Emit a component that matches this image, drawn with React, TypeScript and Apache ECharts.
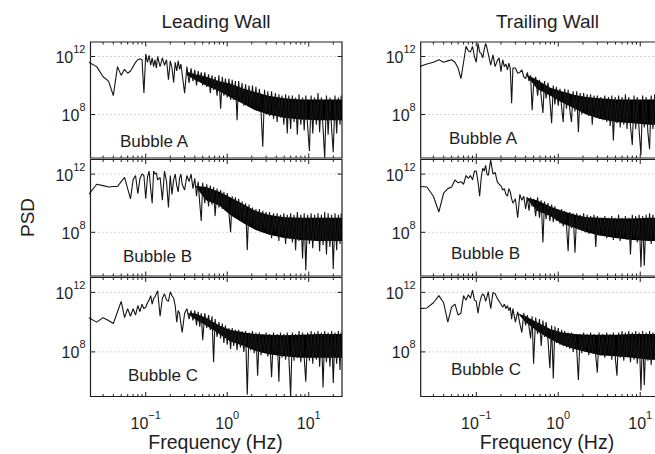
import React, { useEffect, useRef } from "react";
import * as echarts from "echarts";

// ---------------- data ----------------
const freqHz = [
  0.02, 0.025, 0.03, 0.035, 0.04, 0.045, 0.05, 0.055, 0.06, 0.065,
  0.07, 0.075, 0.08, 0.085, 0.09, 0.095, 0.1, 0.105, 0.11, 0.115,
  0.12, 0.125, 0.13, 0.135, 0.14, 0.15, 0.16, 0.17, 0.18, 0.19,
  0.2, 0.21, 0.22, 0.23, 0.24, 0.25, 0.26, 0.27, 0.28, 0.3,
  0.32, 0.34, 0.36, 0.38, 0.4, 0.42, 0.44, 0.46, 0.48, 0.5,
  0.53, 0.56, 0.59, 0.62, 0.65, 0.68, 0.71, 0.75, 0.79, 0.83,
  0.87, 0.91, 0.95, 1.0, 1.05, 1.1, 1.15, 1.2, 1.26, 1.32,
  1.38, 1.45, 1.52, 1.6, 1.68, 1.76, 1.85, 1.94, 2.04, 2.14,
  2.25, 2.36, 2.48, 2.6, 2.73, 2.87, 3.0, 3.15, 3.3, 3.5,
  3.7, 3.9, 4.1, 4.3, 4.5, 4.7, 4.95, 5.2, 5.45, 5.7,
  6.0, 6.3, 6.6, 6.9, 7.25, 7.6, 8.0, 8.4, 8.8, 9.2,
  9.7, 10.2, 10.7, 11.2, 11.8, 12.4, 13.0, 13.6, 14.3, 15.0,
  15.7, 16.5, 17.3, 18.2, 19.1, 20.0, 21.0, 22.0, 23.1, 24.2,
  25.0,
];

const leadingA = [
  4e11, 2e11, 4e10, 2e10, 2e9, 2e11, 5e10, 1.3e11, 7e10, 1e11,
  2e11, 4e11, 6e11, 7e11, 6e11, 3e9, 1.5e12, 4e11, 1.2e12, 2.5e11,
  8e11, 2e11, 6e11, 1.6e11, 1e12, 2e11, 8e11, 2.5e11, 6e11, 2.5e10,
  5e11, 1.6e11, 1.6e10, 4e11, 1e11, 5e11, 1.3e11, 3e11, 6e10, 3e9,
  2e11, 1.5e10, 1.5e11, 2e10, 1.2e11, 1e10, 1e11, 2e10, 8e10, 1e10,
  8e10, 8e9, 6e10, 3e9, 5e10, 5e9, 4e10, 2e9, 5e10, 2.5e8,
  4e10, 2e9, 3e10, 1.5e9, 3e10, 1e9, 2.5e10, 1e9, 2e10, 4e7,
  2e10, 8e8, 1.5e10, 4e8, 1.2e10, 6e8, 1e10, 3e8, 1e10, 3e8,
  8e9, 2e8, 6e9, 1.5e8, 6e5, 5e9, 1e8, 4e9, 8e7, 4e9,
  5e7, 3e9, 3e7, 2.5e9, 6e7, 2e9, 2e7, 2.5e9, 5e6, 2e9,
  1e7, 2e9, 3e7, 1.5e9, 4e6, 2.5e9, 2e7, 1.5e9, 8e6, 2e9,
  1.5e7, 3e5, 2e9, 5e6, 1.5e9, 2e7, 3e9, 6e6, 1.5e9, 1e7,
  1e5, 2e9, 4e6, 1.5e9, 1e7, 2.5e5, 2e9, 5e6, 1.5e9, 2e7,
  2e9,
];

const leadingB = [
  4e10, 2e11, 1.6e11, 1.3e11, 1.4e11, 1.4e11, 3e11, 6e11, 1e11, 2e10,
  4e11, 8e11, 4.5e10, 5e11, 1e12, 8e11, 2e10, 6e11, 1.6e12, 1e11,
  1e10, 1.6e12, 1e12, 1.2e12, 4e11, 6e11, 1.6e10, 1.6e12, 3e11, 5e9,
  8e11, 4e10, 4e11, 1e12, 1.6e11, 6e10, 5e11, 1e12, 2e11, 8e10,
  8e11, 3e11, 1e12, 1e11, 5e11, 3e10, 3e11, 1e10, 6e8, 2.5e11,
  1e10, 2e11, 6e9, 1.6e11, 8e9, 1.3e11, 1.3e9, 1e11, 5e9, 8e10,
  4e9, 6e10, 3e9, 5e10, 2e9, 1e8, 3e10, 1.3e9, 2.5e10, 1e9,
  2e10, 6e8, 1.3e10, 5e8, 1e10, 6e6, 8e9, 4e8, 5e9, 2.5e8,
  4e9, 2e8, 4e9, 1e8, 3e9, 1.6e8, 2.5e9, 8e7, 2.5e9, 4e7,
  2e9, 1e8, 2e9, 2.5e7, 1.6e9, 6e7, 2e9, 1.6e7, 1.6e9, 4e7,
  2e9, 2e7, 1.6e9, 6e6, 2.5e9, 2.5e7, 1.6e9, 1.6e6, 2e9, 2.5e5,
  1.6e9, 1.6e7, 2e9, 8e6, 1.6e9, 2.5e7, 2e9, 5e6, 1.6e9, 1.3e7,
  2.5e9, 3e6, 2e9, 1e7, 1.6e9, 3e5, 2e9, 6e6, 1.6e9, 1.6e7,
  2e9,
];

const leadingC = [
  2e10, 1e10, 2e10, 1.3e10, 8e9, 5e10, 2.5e11, 2e10, 8e10, 2.5e10,
  8e10, 3e10, 1.3e11, 5e10, 1.6e11, 8e10, 1e11, 2e11, 3e11, 6e11,
  1.6e11, 4e11, 5e11, 8e11, 1.3e12, 2.5e10, 4e11, 8e11, 3e11, 2.5e11,
  1.1e12, 6e11, 4e11, 1.3e11, 1e10, 6e10, 4e10, 8e9, 2e9, 4e10,
  8e10, 1.6e10, 6e10, 1.3e10, 6e10, 6e9, 5e10, 5e9, 4e10, 6e8,
  4e10, 4e9, 3e10, 3e9, 2.5e10, 2e7, 1.6e10, 1e9, 1e10, 8e8,
  8e9, 4e8, 6e9, 3e8, 4e9, 1.6e8, 4e9, 2.5e8, 3e9, 1.3e8,
  3e9, 2e8, 2.5e9, 1e8, 2.5e9, 1.3e5, 2e9, 1.3e8, 2.5e9, 8e7,
  2e9, 2.5e6, 2e9, 6e7, 1.6e9, 1e8, 2e9, 5e7, 1.6e9, 2e6,
  2e9, 6e7, 1.6e9, 1e6, 2e9, 4e7, 1.6e9, 3e7, 2e9, 5e7,
  1e5, 2e9, 2.5e7, 1.6e9, 4e7, 2.5e9, 2e7, 2e9, 4e7, 1e6,
  2e9, 2.5e7, 2.5e9, 1.6e7, 2e9, 3e7, 2.5e9, 1e7, 2e9, 4e5,
  2.5e9, 2e7, 2e9, 1e7, 2.5e9, 8e5, 2e9, 1.6e7, 2.5e9, 6e6,
  2e9,
];

const trailingA = [
  2e11, 3e11, 4e11, 6e11, 4e11, 5e11, 6e11, 4e11, 1.6e11, 3e10,
  4e11, 5e12, 2.5e12, 2e12, 5e12, 1e12, 4e11, 8e12, 2e12, 1.6e12,
  8e11, 3e12, 8e12, 4e12, 1.5e12, 2.5e11, 1.3e12, 2e11, 5e11, 8e11,
  9e10, 6e11, 2e11, 3e11, 1.2e11, 3.5e11, 1.5e11, 6e8, 1.6e11, 1.6e11,
  7e10, 8e10, 1.2e11, 4e10, 3e10, 8e10, 2e10, 5e10, 2e8, 1e10,
  4e10, 2e9, 2.5e10, 1.6e9, 1.3e8, 2e10, 1.3e9, 1.6e10, 1e9, 2.5e7,
  1e10, 5e8, 8e9, 4e8, 6e9, 3e8, 3e7, 6e9, 2.5e8, 5e9,
  2.5e8, 3e7, 4e9, 1.6e8, 4e9, 6e6, 3e9, 1e8, 3e9, 1.3e8,
  2.5e9, 8e7, 2.5e9, 2e7, 2e9, 6e7, 2e9, 5e7, 1.6e9, 4e7,
  2e9, 3e7, 1.6e9, 1.6e7, 2e9, 1.6e6, 1.6e9, 2.5e7, 2e9, 1.3e7,
  1.6e9, 2e7, 2.5e9, 1e7, 1.6e9, 1.6e7, 8e5, 2e9, 1e7, 1.6e9,
  8e6, 1.6e5, 2e9, 1.3e7, 1.6e9, 6e6, 4e5, 2e9, 1e7, 2.5e9,
  8e6, 1.6e9, 1.6e7, 2e9, 6e6, 1.6e9, 1e7, 2.5e9, 8e6, 2e9,
  1.3e7,
];

const trailingB = [
  1.4e11, 1.3e11, 3e10, 2.5e9, 5e10, 1e11, 1.3e11, 4e11, 2.5e11, 3e11,
  2e11, 8e11, 5e11, 8e11, 4e11, 1.6e12, 1.6e12, 3e11, 3e10, 6e11,
  2.5e12, 1.6e12, 4e12, 1e12, 8e11, 9e12, 1e12, 1.3e12, 3e11, 2e11,
  1.6e11, 8e10, 1e11, 4e10, 3e10, 1e11, 6e10, 2e10, 1e10, 2e10,
  1e9, 4e10, 1.6e10, 3e10, 4e9, 2.5e10, 3e9, 2.5e10, 6e9, 2e10,
  1.3e9, 2.5e10, 1e9, 1.6e10, 2e7, 1.3e10, 8e8, 1e10, 6e8, 8e9,
  5e8, 6e9, 6e8, 4e9, 4e8, 4e9, 2.5e8, 3e9, 3e8, 5e6,
  2.5e9, 2e8, 2e9, 4e6, 2e9, 1.6e8, 1.6e9, 1.3e8, 2e9, 1e8,
  1.6e9, 8e7, 1.3e9, 1e8, 1.6e9, 1e7, 1.3e9, 6e7, 1e9, 8e7,
  1.3e9, 4e7, 1e9, 6e7, 1.3e9, 3e7, 1e9, 5e7, 1.6e9, 2.5e7,
  1e9, 5e7, 1.3e9, 3e7, 1e9, 3e6, 1.6e9, 4e7, 1.3e9, 2e7,
  1.6e9, 4e5, 1.3e9, 5e5, 1.6e9, 2.5e7, 2e9, 1.6e7, 1.6e9, 3e7,
  2e9, 2e7, 1.6e9, 1.3e7, 2e9, 2.5e7, 1.6e9, 1e7, 2e9, 2e7,
  1.6e9,
];

const trailingC = [
  8e10, 9e10, 2e11, 6e11, 2e11, 1e10, 1e11, 1.6e11, 3e10, 4e10,
  6e11, 3e11, 7e11, 4e11, 1.4e12, 3e11, 2.5e11, 4e10, 2e11, 5e11,
  8e11, 6e11, 2.5e11, 5e11, 1.1e12, 8e10, 1e12, 8e11, 4e11, 2.5e11,
  1.6e11, 1e11, 1.6e11, 8e10, 1.3e11, 6e10, 1e11, 1.6e10, 8e10, 1e10,
  5e10, 8e9, 2e9, 4e10, 6e9, 3e10, 5e9, 8e8, 2.5e10, 1.6e7,
  2e10, 1.6e9, 1.6e10, 2.5e8, 1.3e10, 1e9, 1e10, 6e8, 8e6, 6e9,
  1.6e6, 5e9, 4e8, 4e9, 3e8, 3e9, 2.5e8, 2.5e9, 2e8, 2e9,
  1.6e8, 2e9, 1e8, 1.6e9, 1.3e8, 1.3e6, 1.6e9, 8e7, 2e9, 1e8,
  1.6e9, 6e7, 2e9, 8e7, 1.6e9, 5e7, 4e6, 2e9, 6e7, 1.6e9,
  4e7, 2e9, 8e7, 1.6e9, 3e7, 2e9, 5e7, 2.5e6, 2e9, 4e7,
  2.5e9, 2.5e7, 2e9, 5e7, 2.5e9, 2e7, 2e9, 3e7, 2.5e9, 1.6e7,
  2e9, 2.5e5, 2.5e9, 6e5, 2e9, 2.5e7, 2.5e9, 1.3e7, 2e9, 3e7,
  2.5e9, 1.6e7, 2e9, 2.5e7, 2.5e9, 1e7, 2e9, 2e7, 2.5e9, 1.3e7,
  2e9,
];

// solid core of the densely-sampled high-frequency part (upper / lower edge)
const bandFreqHz = [0.32, 0.4, 0.55, 0.8, 1.1, 1.6, 2.2, 3.2, 5, 8, 13, 25.6];
const leadingABandTop = [9e10, 6e10, 4e10, 2e10, 1.3e10, 6e9, 3.5e9, 2e9, 1.3e9, 1.1e9, 1.1e9, 1.1e9];
const leadingABandBottom = [5e10, 2.5e10, 1e10, 4e9, 1.5e9, 5e8, 2e8, 1e8, 6e7, 4.5e7, 4e7, 4e7];
const leadingBBandTop = [1.6e11, 1.6e11, 1.3e11, 6e10, 2.5e10, 8e9, 3e9, 1.6e9, 1.1e9, 1e9, 1e9, 1e9];
const leadingBBandBottom = [1.6e11, 1.6e11, 1.6e10, 7e9, 1.5e9, 4e8, 1.5e8, 7e7, 4e7, 3e7, 2.5e7, 2.5e7];
const leadingCBandTop = [4e10, 4e10, 2e10, 6e9, 3e9, 2e9, 1.6e9, 1.4e9, 1.3e9, 1.4e9, 1.6e9, 1.6e9];
const leadingCBandBottom = [4e10, 1.6e10, 6e9, 1.6e9, 5e8, 2.5e8, 1.2e8, 7e7, 5e7, 4e7, 4e7, 4e7];
const trailingABandTop = [6e10, 6e10, 2.5e10, 7e9, 4e9, 2.2e9, 1.6e9, 1.3e9, 1.1e9, 1.1e9, 1.1e9, 1.1e9];
const trailingABandBottom = [6e10, 6e10, 6e9, 2e9, 7e8, 2.5e8, 1e8, 5e7, 3e7, 2.5e7, 2e7, 2e7];
const trailingBBandTop = [2.5e10, 2.5e10, 1.6e10, 6e9, 3e9, 1.6e9, 1.1e9, 1e9, 9e8, 9e8, 1e9, 1e9];
const trailingBBandBottom = [2.5e10, 2.5e10, 3e9, 1.3e9, 4e8, 2e8, 1e8, 6e7, 4e7, 3e7, 2.5e7, 2.5e7];
const trailingCBandTop = [4e10, 2.5e10, 1e10, 3.5e9, 2e9, 1.6e9, 1.4e9, 1.4e9, 1.4e9, 1.6e9, 1.6e9, 1.6e9];
const trailingCBandBottom = [4e10, 1e10, 2.5e9, 7e8, 3e8, 1.5e8, 1e8, 6e7, 5e7, 4e7, 3e7, 3e7];

const columnTitles = ["Leading Wall", "Trailing Wall"];
const bubbleNames = ["Bubble A", "Bubble B", "Bubble C"];
const xMajorTicks = [0.1, 1, 10];
const xMinorTicks = [
  0.03, 0.04, 0.05, 0.06, 0.07, 0.08, 0.09,
  0.2, 0.3, 0.4, 0.5, 0.6, 0.7, 0.8, 0.9,
  2, 3, 4, 5, 6, 7, 8, 9, 20,
];
const yLabelledTicks = [1e8, 1e12];

// ---------------- layout / style ----------------
const FONT = "'Liberation Sans', Arial, Helvetica, sans-serif";
const TEXT = "#1e1e1e";
const colLeft = [90.5, 420.7];
const colWidth = [251.5, 253];
const rowTop = [42, 159.5, 277.5];
const rowHeight = [116, 116.5, 119];
const bubblePos = [
  [[120, 141.5], [123, 256], [128, 375]],
  [[449, 138], [451, 253.7], [451, 369.5]],
];

const panelData = [
  [leadingA, leadingB, leadingC],
  [trailingA, trailingB, trailingC],
];
const panelBandTop = [
  [leadingABandTop, leadingBBandTop, leadingCBandTop],
  [trailingABandTop, trailingBBandTop, trailingCBandTop],
];
const panelBandBottom = [
  [leadingABandBottom, leadingBBandBottom, leadingCBandBottom],
  [trailingABandBottom, trailingBBandBottom, trailingCBandBottom],
];

const rich = {
  b: { fontSize: 16, fontFamily: FONT, color: TEXT, lineHeight: 22, verticalAlign: "bottom" },
  s: { fontSize: 11, fontFamily: FONT, color: TEXT, lineHeight: 11, verticalAlign: "top" },
};

function powLabel(v: number): string {
  const e = Math.log10(v);
  const r = Math.round(e);
  if (Math.abs(e - r) > 1e-6) return "";
  const exp = r < 0 ? "\u2212" + Math.abs(r) : String(r);
  return `{b|10}{s|${exp}}`;
}

function yLabel(v: number): string {
  const ok = yLabelledTicks.some((t) => Math.abs(Math.log10(v) - Math.log10(t)) < 1e-6);
  return ok ? powLabel(v) : "";
}

function xLabel(v: number): string {
  const ok = xMajorTicks.some((t) => Math.abs(Math.log10(v) - Math.log10(t)) < 1e-6);
  return ok ? powLabel(v) : "";
}

function buildOption() {
  const grid: any[] = [];
  const xAxis: any[] = [];
  const yAxis: any[] = [];
  const series: any[] = [];
  const graphic: any[] = [];

  const tickData: number[][] = [
    ...xMajorTicks.map((v) => [v, 1]),
    ...xMinorTicks.map((v) => [v, 2]),
    ...yLabelledTicks.map((v) => [v, 3]),
  ];

  let idx = 0;
  for (let c = 0; c < 2; c++) {
    for (let r = 0; r < 3; r++) {
      grid.push({
        left: colLeft[c],
        top: rowTop[r],
        width: colWidth[c],
        height: rowHeight[r],
        show: true,
        borderColor: "#1e1e1e",
        borderWidth: 1.2,
        backgroundColor: "transparent",
        containLabel: false,
        outerBoundsMode: "none",
      });
      xAxis.push({
        gridIndex: idx,
        type: "log",
        logBase: 10,
        min: 0.021,
        max: 25.6,
        axisLine: { show: false },
        axisTick: { show: false },
        minorTick: { show: false },
        splitLine: { show: false },
        axisLabel: {
          show: r === 2,
          margin: 13,
          formatter: xLabel,
          rich,
          hideOverlap: false,
        },
      });
      yAxis.push({
        gridIndex: idx,
        type: "log",
        logBase: 10,
        min: 1e5,
        max: 1e13,
        axisLine: { show: false },
        axisTick: { show: false },
        minorTick: { show: false },
        splitLine: { show: false },
        axisLabel: {
          show: true,
          margin: 5,
          formatter: yLabel,
          rich,
          padding: [0, 0, 4, 0],
        },
      });
      const vals = panelData[c][r];
      const bandTop = panelBandTop[c][r];
      const bandBottom = panelBandBottom[c][r];

      // ticks and dotted grid lines
      series.push({
        type: "custom",
        xAxisIndex: idx,
        yAxisIndex: idx,
        z: 1,
        silent: true,
        data: tickData,
        renderItem: (params: any, api: any) => {
          const v = api.value(0);
          const k = api.value(1);
          const cs = params.coordSys;
          const top = cs.y;
          const bottom = cs.y + cs.height;
          const left = cs.x;
          const right = cs.x + cs.width;
          const tickStyle = { stroke: "#1e1e1e", lineWidth: 1 };
          if (k === 1 || k === 2) {
            const px = api.coord([v, 1e9])[0];
            const len = k === 1 ? 4.5 : 2.5;
            return {
              type: "group",
              children: [
                { type: "line", shape: { x1: px, y1: bottom, x2: px, y2: bottom - len }, style: tickStyle },
                { type: "line", shape: { x1: px, y1: top, x2: px, y2: top + len }, style: tickStyle },
              ],
            };
          }
          const py = api.coord([1, v])[1];
          return {
            type: "group",
            children: [
              {
                type: "line",
                shape: { x1: left, y1: py, x2: right, y2: py },
                style: { stroke: "#a8a8a8", lineWidth: 1, lineDash: [1, 3] },
              },
              { type: "line", shape: { x1: left, y1: py, x2: left + 4.5, y2: py }, style: tickStyle },
              { type: "line", shape: { x1: right, y1: py, x2: right - 4.5, y2: py }, style: tickStyle },
            ],
          };
        },
      });

      // solid core of the dense band
      series.push({
        type: "custom",
        xAxisIndex: idx,
        yAxisIndex: idx,
        z: 2,
        silent: true,
        clip: true,
        data: bandFreqHz.map((f, j) => [f, bandTop[j], bandBottom[j]]),
        encode: { x: 0, y: [1, 2] },
        renderItem: (params: any, api: any) => {
          if (params.dataIndex !== 0) return null;
          const upper = bandFreqHz.map((f, j) => api.coord([f, bandTop[j]]));
          const lower = bandFreqHz.map((f, j) => api.coord([f, bandBottom[j]])).reverse();
          return {
            type: "polygon",
            shape: { points: upper.concat(lower) },
            style: { fill: "#000000", stroke: "none" },
          };
        },
      });

      // the spectrum
      series.push({
        type: "line",
        xAxisIndex: idx,
        yAxisIndex: idx,
        z: 3,
        silent: true,
        symbol: "none",
        showSymbol: false,
        clip: true,
        lineStyle: { color: "#151515", width: 1.1 },
        data: freqHz.map((f, j) => [f, vals[j]]),
      });

      graphic.push({
        type: "text",
        x: bubblePos[c][r][0],
        y: bubblePos[c][r][1],
        style: {
          text: bubbleNames[r],
          fontSize: 17,
          fontFamily: FONT,
          fill: TEXT,
          align: "left",
          verticalAlign: "middle",
        },
        z: 10,
      });
      idx++;
    }
  }

  const titleX = [216, 547.5];
  for (let c = 0; c < 2; c++) {
    graphic.push({
      type: "text",
      x: titleX[c],
      y: 21,
      style: { text: columnTitles[c], fontSize: 19, fontFamily: FONT, fill: TEXT, align: "center", verticalAlign: "middle" },
    });
    graphic.push({
      type: "text",
      x: titleX[c] - 0.5,
      y: 442,
      style: { text: "Frequency (Hz)", fontSize: 19.5, fontFamily: FONT, fill: TEXT, align: "center", verticalAlign: "middle" },
    });
  }
  graphic.push({
    type: "text",
    x: 27.5,
    y: 217.5,
    rotation: Math.PI / 2,
    style: { text: "PSD", fontSize: 19, fontFamily: FONT, fill: TEXT, align: "center", verticalAlign: "middle" },
  });

  return {
    animation: false,
    backgroundColor: "#ffffff",
    grid,
    xAxis,
    yAxis,
    series,
    graphic,
  };
}

export default function App() {
  const ref = useRef<HTMLDivElement>(null);
  useEffect(() => {
    if (!ref.current) return;
    const chart = echarts.init(ref.current, null, { renderer: "svg" });
    chart.setOption(buildOption() as any);
    return () => {
      chart.dispose();
    };
  }, []);
  return (
    <div
      ref={ref}
      style={{ position: "fixed", left: 0, top: 0, width: 655, height: 454, background: "#fff" }}
    />
  );
}
